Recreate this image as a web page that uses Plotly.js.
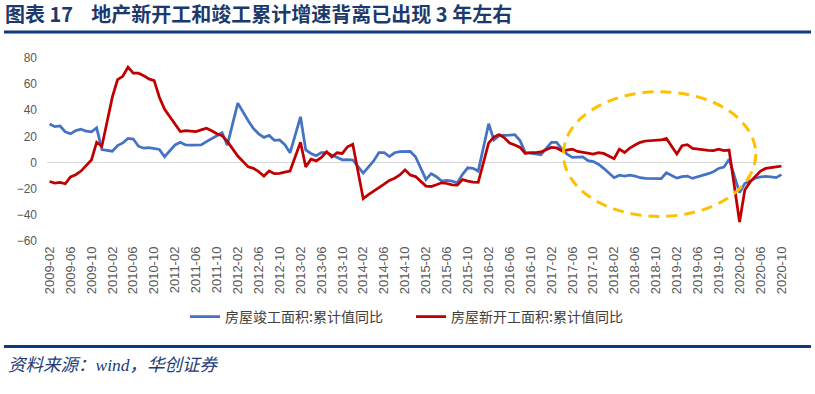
<!DOCTYPE html>
<html><head><meta charset="utf-8">
<script src="https://cdn.plot.ly/plotly-3.0.1.min.js"></script>
<style>html,body{margin:0;padding:0;background:#fff}#chart{width:815px;height:394px}</style>
</head><body><div id="chart"></div>
<script>
// Monthly categories 2009-02 .. 2020-10 (January has no cumulative value)
const categories = [];
for (let y = 2009; y <= 2020; y++) {
  for (let m = 1; m <= 12; m++) {
    if ((y === 2009 && m < 2) || (y === 2020 && m > 10)) continue;
    categories.push(y + '-' + String(m).padStart(2, '0'));
  }
}
const tickLabels = categories.filter((c, i) => i % 4 === 0);
const yTicks = [-60, -40, -20, 0, 20, 40, 60, 80];

const seriesNames = ['房屋竣工面积:累计值同比', '房屋新开工面积:累计值同比'];

// 房屋竣工面积:累计值同比 (%)
const completedYoY = [
  29.5, 27.5, 28, 23.5, 22, 24.5, 25.5, 24, 23.5, 26.5, 10,            // 2009 Feb-Dec
  null, 8.7, 13, 15, 18.5, 18, 12.5, 11, 11.5, 10.8, 10, 4.5,          // 2010
  null, 13.5, 15.5, 13.5, 13.3, 13.4, 13.5, 16, 18.5, 20.5, 22.8, 13.3,// 2011
  null, 45.5, 38.5, 32, 26, 22, 19.3, 20.8, 17, 17.3, 13.7, 7.5,       // 2012
  null, 35, 9.6, 7, 5.2, 7.7, 7.7, 5.7, 4, 2.1, 2.3, 2,                // 2013
  null, -8, -3.3, 1.3, 7.7, 7.7, 4.6, 7.5, 8.3, 8.5, 8.5, 4.5,         // 2014
  null, -12.9, -8.5, -10.8, -14.2, -13.7, -14.2, -15.5, -9, -4, -4.4, -6.5, // 2015
  null, 29.7, 17.3, 20.6, 20.6, 21, 21.4, 16.8, 7.7, 7.2, 6.5, 6,      // 2016
  null, 15.5, 15.5, 10.3, 6.5, 3.9, 4.4, 4.4, 1.5, 0.8, -1.3, -4.4,    // 2017
  null, -11.6, -9.7, -10.3, -9.7, -10.3, -11.6, -12, -12.1, -12.1, -12.3, -7.8, // 2018
  null, -11.9, -10.8, -10.3, -12.1, -11, -9.5, -8.5, -7, -4.5, -3.5, 2.6, // 2019
  null, -23, -16, -14, -12, -11, -10.5, -11, -11.5, -9.2               // 2020 Jan-Oct
];

// 房屋新开工面积:累计值同比 (%)
const startsYoY = [
  -14.5, -15.7, -15.2, -16.2, -11, -9.3, -6.5, -2.6, 2, 15.5, 12.5,     // 2009 Feb-Dec
  null, 50, 63.5, 66, 73, 68.4, 68.4, 66.5, 64, 62.7, 50, 40.7,         // 2010
  null, 29, 23.7, 24.5, 24, 23.7, 25, 26.3, 24.3, 22, 20.6, 16.2,       // 2011
  null, 5, 1, -3.3, -4.4, -7, -10.3, -6.4, -8.5, -8.3, -7.3, -6.5,      // 2012
  null, 15.5, -3.3, 2.6, 1.3, 3.9, 8.3, 4.4, 7.5, 7, 12.1, 14,          // 2013
  null, -27.6, -24.5, -22, -19.3, -16.5, -13.6, -12, -9.5, -5.6, -9.5, -10.7, // 2014
  null, -18, -18.3, -17, -15.5, -16, -17, -17.3, -13, -14.2, -15, -15.2,// 2015
  null, 15, 19.5, 21.4, 19, 15, 13.4, 11.6, 7, 7.7, 7.7, 8.1,           // 2016
  null, 11.6, 11.2, 9, 9.8, 10.3, 8.5, 7.7, 7, 6.5, 7.5, 7,             // 2017
  null, 3, 10.3, 7.7, 11.1, 13.4, 15.5, 16.5, 16.8, 16.8, 17.3, 18.5,   // 2018
  null, 6.5, 12.9, 13.7, 10.8, 10.2, 9.8, 9.4, 9.2, 10.3, 9.2, 9.6,     // 2019
  null, -45.5, -21, -15, -10.5, -6.5, -4.5, -3.8, -3.3, -2.8            // 2020 Jan-Oct
];

const W = 815, H = 394;
const M = {l: 47, r: 31, t: 58, b: 153};
const PW = W - M.l - M.r, PH = H - M.t - M.b;
const px2paperX = px => (px - M.l) / PW;
const px2paperY = py => (H - M.b - py) / PH;

const traces = [
  {x: categories, y: completedYoY, name: seriesNames[0], type: 'scatter', mode: 'lines',
   connectgaps: true, line: {color: '#4472C4', width: 2.75}},
  {x: categories, y: startsYoY, name: seriesNames[1], type: 'scatter', mode: 'lines',
   connectgaps: true, line: {color: '#C00000', width: 2.75}}
];

const navy = '#0E3A7E';
const layout = {
  width: W, height: H,
  margin: M,
  paper_bgcolor: '#fff', plot_bgcolor: '#fff',
  showlegend: true,
  title: {
    text: '<b>图表 17\u00A0\u00A0\u00A0\u00A0地产新开工和竣工累计增速背离已出现 3 年左右</b>',
    xref: 'container', yref: 'container', x: 5 / W, xanchor: 'left', y: 1 - 15 / H, yanchor: 'middle',
    font: {family: 'Noto Sans CJK SC', size: 20, color: '#1B3A6B'}
  },
  xaxis: {
    type: 'category', range: [-0.5, categories.length - 0.5],
    tickmode: 'array', tickvals: tickLabels, ticktext: tickLabels,
    tickangle: -90, ticks: '', showgrid: false, showline: false, zeroline: false,
    tickfont: {family: 'Liberation Sans, Arial', size: 13, color: '#595959'},
    ticklabelstandoff: 2
  },
  yaxis: {
    range: [-60, 80], tickmode: 'array', tickvals: yTicks, ticks: '',
    showgrid: false, showline: false,
    zeroline: true, zerolinecolor: '#D9D9D9', zerolinewidth: 1,
    tickfont: {family: 'Liberation Sans, Arial', size: 12, color: '#595959'},
    ticklabelstandoff: 9
  },
  legend: {
    orientation: 'h', xref: 'container', yref: 'container',
    x: 185 / W, xanchor: 'left', y: 1 - 317 / H, yanchor: 'middle',
    font: {family: 'Noto Sans CJK SC', size: 14, color: '#404040'},
    entrywidth: 181, entrywidthmode: 'pixels',
    bgcolor: 'rgba(0,0,0,0)', borderwidth: 0
  },
  shapes: [
    {type: 'circle', xref: 'x', yref: 'y', x0: 98.3, x1: 135.1, y0: -41.2, y1: 54.2,
     line: {color: '#FFC000', width: 3, dash: '11px,7px'}, layer: 'above'},
    {type: 'line', xref: 'paper', yref: 'paper', x0: px2paperX(4), x1: px2paperX(811),
     y0: px2paperY(32), y1: px2paperY(32), line: {color: navy, width: 3}},
    {type: 'line', xref: 'paper', yref: 'paper', x0: px2paperX(4), x1: px2paperX(811),
     y0: px2paperY(346.5), y1: px2paperY(346.5), line: {color: navy, width: 3}}
  ],
  annotations: [
    {text: '<i>资料来源：wind，华创证券</i>', xref: 'paper', yref: 'paper',
     x: px2paperX(6), xanchor: 'left', y: px2paperY(365), yanchor: 'middle', showarrow: false,
     font: {family: 'Liberation Serif, Noto Sans CJK SC', size: 17.5, color: '#203C78'}}
  ]
};

Plotly.newPlot('chart', traces, layout, {displayModeBar: false, staticPlot: true});
</script>
</body></html>
